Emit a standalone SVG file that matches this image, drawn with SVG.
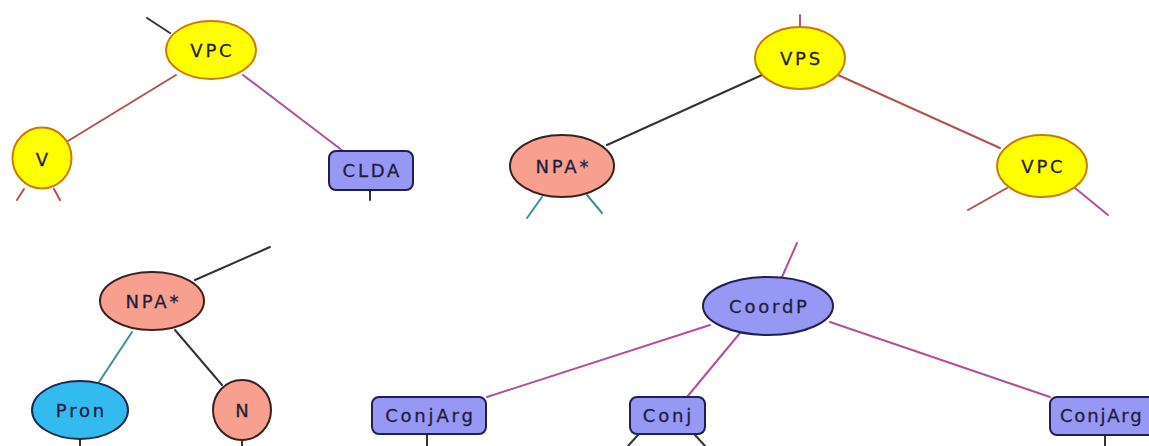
<svg xmlns="http://www.w3.org/2000/svg" width="1149" height="446" viewBox="0 0 1149 446">
  <style>
    .bg { fill: #ffffff; }
    .edge { fill: none; stroke-width: 2; stroke-linecap: round; }
    .red { stroke: #b0524e; }
    .pink { stroke: #b0509e; }
    .dark { stroke: #333333; }
    .teal { stroke: #3f8f96; }
    .yellow { fill: #ffff00; stroke: #cc7a00; stroke-width: 2; }
    .salmon { fill: #f8a090; stroke: #3a2020; stroke-width: 2; }
    .blue { fill: #9797f4; stroke: #202050; stroke-width: 2; }
    .cyan { fill: #33bbf0; stroke: #1a2a50; stroke-width: 2; }
    .label { font-family: "DejaVu Sans", Verdana, sans-serif; font-size: 18px; fill: #1e1e3c; stroke: #1e1e3c; stroke-width: 0.3; letter-spacing: 2.8px; text-anchor: middle; }
    .label-start { font-family: "DejaVu Sans", Verdana, sans-serif; font-size: 18px; fill: #1e1e3c; stroke: #1e1e3c; stroke-width: 0.3; letter-spacing: 1.8px; }
  </style>
  <rect class="bg" x="0" y="0" width="1149" height="446"/>

  <g id="connectors">
    <!-- upper left tree -->
    <line class="edge dark" x1="147" y1="18" x2="170" y2="33"/>
    <line class="edge red" x1="176" y1="75" x2="68" y2="141"/>
    <line class="edge pink" x1="243" y1="75" x2="343" y2="151"/>
    <line class="edge red" x1="24" y1="189" x2="17" y2="200"/>
    <line class="edge red" x1="54" y1="189" x2="60" y2="200"/>
    <line class="edge dark" x1="370" y1="190" x2="370" y2="200"/>
    <!-- upper right tree -->
    <line class="edge pink" x1="800" y1="15" x2="800" y2="28"/>
    <line class="edge dark" x1="762" y1="75" x2="607" y2="145"/>
    <line class="edge red" x1="838" y1="75" x2="1000" y2="148"/>
    <line class="edge teal" x1="542" y1="197" x2="527" y2="218"/>
    <line class="edge teal" x1="587" y1="195" x2="602" y2="213"/>
    <line class="edge red" x1="1007" y1="188" x2="968" y2="210"/>
    <line class="edge pink" x1="1075" y1="188" x2="1108" y2="215"/>
    <!-- lower left tree -->
    <line class="edge dark" x1="195" y1="280" x2="270" y2="247"/>
    <line class="edge teal" x1="132" y1="332" x2="99" y2="382"/>
    <line class="edge dark" x1="175" y1="330" x2="222" y2="385"/>
    <line class="edge dark" x1="80" y1="439" x2="80" y2="446"/>
    <line class="edge dark" x1="242" y1="440" x2="242" y2="446"/>
    <!-- lower right tree -->
    <line class="edge pink" x1="782" y1="277" x2="797" y2="243"/>
    <line class="edge pink" x1="710" y1="325" x2="487" y2="397"/>
    <line class="edge pink" x1="740" y1="333" x2="687" y2="397"/>
    <line class="edge pink" x1="830" y1="322" x2="1050" y2="397"/>
    <line class="edge dark" x1="427" y1="434" x2="427" y2="446"/>
    <line class="edge dark" x1="638" y1="435" x2="628" y2="446"/>
    <line class="edge dark" x1="695" y1="435" x2="705" y2="446"/>
    <line class="edge dark" x1="1105" y1="436" x2="1105" y2="446"/>
  </g>

  <g id="vpc-top">
    <ellipse class="yellow" cx="211" cy="50" rx="45" ry="29"/>
    <text class="label" x="212.4" y="57">VPC</text>
  </g>
  <g id="v">
    <ellipse class="yellow" cx="42" cy="158" rx="29.5" ry="30.5"/>
    <text class="label" x="43.4" y="166">V</text>
  </g>
  <g id="clda">
    <rect class="blue" x="329" y="151" width="84" height="39" rx="7"/>
    <text class="label" x="372.4" y="177">CLDA</text>
  </g>
  <g id="vps">
    <ellipse class="yellow" cx="800" cy="58" rx="45" ry="31"/>
    <text class="label" x="801.4" y="65">VPS</text>
  </g>
  <g id="npa-top">
    <ellipse class="salmon" cx="562" cy="166" rx="52" ry="31"/>
    <text class="label" x="563.4" y="173">NPA*</text>
  </g>
  <g id="vpc-right">
    <ellipse class="yellow" cx="1042" cy="166" rx="45" ry="31"/>
    <text class="label" x="1043.4" y="173">VPC</text>
  </g>
  <g id="npa-bottom">
    <ellipse class="salmon" cx="152" cy="301" rx="52" ry="29"/>
    <text class="label" x="153.4" y="308">NPA*</text>
  </g>
  <g id="pron">
    <ellipse class="cyan" cx="80" cy="410" rx="48" ry="29"/>
    <text class="label" x="81.4" y="417">Pron</text>
  </g>
  <g id="n">
    <ellipse class="salmon" cx="242" cy="410" rx="29" ry="30"/>
    <text class="label" x="243.4" y="417">N</text>
  </g>
  <g id="coordp">
    <ellipse class="blue" cx="768" cy="306" rx="65" ry="29"/>
    <text class="label" x="769.4" y="313">CoordP</text>
  </g>
  <g id="conjarg-left">
    <rect class="blue" x="372" y="397" width="114" height="37" rx="7"/>
    <text class="label" x="430.4" y="422">ConjArg</text>
  </g>
  <g id="conj">
    <rect class="blue" x="630" y="397" width="75" height="37" rx="7"/>
    <text class="label" x="668.4" y="422">Conj</text>
  </g>
  <g id="conjarg-right">
    <rect class="blue" x="1050" y="397" width="112" height="38" rx="7"/>
    <text class="label-start" x="1060" y="422">ConjArg</text>
  </g>
</svg>
